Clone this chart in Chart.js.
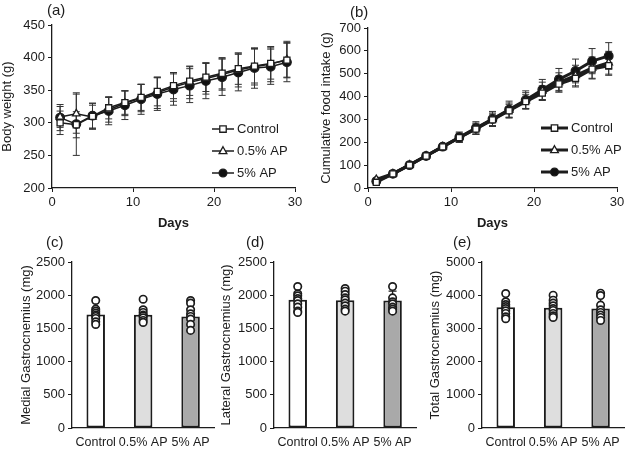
<!DOCTYPE html>
<html>
<head>
<meta charset="utf-8">
<script src="https://cdn.jsdelivr.net/npm/chart.js@4.4.1/dist/chart.umd.min.js"></script>
<style>
  body { margin: 0; background: #fff; }
  #fig { position: relative; width: 630px; height: 450px; overflow: hidden; }
  .panel { position: absolute; }
</style>
</head>
<body>
<div id="fig">
  <div class="panel" style="left:0;top:0;width:315px;height:235px"><canvas id="cA"></canvas></div>
  <div class="panel" style="left:315px;top:0;width:315px;height:235px"><canvas id="cB"></canvas></div>
  <div class="panel" style="left:0;top:220px;width:220px;height:230px"><canvas id="cC"></canvas></div>
  <div class="panel" style="left:210px;top:220px;width:212px;height:230px"><canvas id="cD"></canvas></div>
  <div class="panel" style="left:420px;top:220px;width:210px;height:230px"><canvas id="cE"></canvas></div>
</div>
<script>
// ---- data ----
const days = [1, 3, 5, 7, 9, 11, 13, 15, 17, 19, 21, 23, 25, 27, 29];
const groups = ['Control', '0.5% AP', '5% AP'];

// (a) body weight, g
const bwControl = [300, 297, 310, 323, 331, 339, 348, 357, 364, 370, 376, 383, 387, 391, 396];
const bwLow     = [309, 314, 309, 320, 330, 338, 346, 355, 362, 368, 374, 381, 386, 390, 397];
const bwHigh    = [308, 298, 311, 318, 327, 336, 344, 351, 357, 364, 370, 377, 384, 386, 393];
const bwControlSd = [18, 20, 20, 17, 18, 20, 22, 20, 22, 22, 24, 24, 26, 24, 26];
const bwLowSd     = [16, 30, 18, 19, 19, 21, 24, 22, 25, 24, 24, 26, 28, 27, 28];
const bwHighSd    = [20, 48, 19, 21, 22, 23, 25, 24, 26, 27, 28, 28, 31, 27, 30];

// (b) cumulative food intake, g
const fiControl = [25, 62, 100, 140, 180, 220, 258, 298, 338, 378, 415, 455, 480, 520, 535];
const fiLow     = [38, 63, 101, 141, 181, 221, 260, 300, 340, 382, 425, 462, 492, 525, 548];
const fiHigh    = [30, 62, 100, 140, 181, 222, 262, 302, 343, 385, 430, 475, 512, 555, 578];
const fiControlSd = [5, 6, 7, 8, 10, 18, 22, 25, 28, 30, 32, 35, 38, 40, 42];
const fiLowSd     = [5, 6, 7, 8, 10, 20, 24, 28, 32, 35, 38, 42, 45, 48, 50];
const fiHighSd    = [5, 6, 7, 9, 12, 23, 28, 33, 37, 40, 45, 48, 52, 55, 58];

// (c) medial gastrocnemius, mg
const medMean = [1710, 1705, 1680];
const medSd = [100, 105, 115];
const medPts = [
  [1920, 1790, 1760, 1730, 1700, 1680, 1650, 1600, 1560],
  [1940, 1780, 1740, 1700, 1690, 1660, 1620, 1590],
  [1920, 1880, 1780, 1720, 1680, 1640, 1560, 1470]
];
// (d) lateral gastrocnemius, mg
const latMean = [1930, 1925, 1920];
const latSd = [115, 110, 140];
const latPts = [
  [2130, 2020, 1990, 1950, 1920, 1870, 1820, 1760, 1740],
  [2100, 2060, 2010, 1960, 1930, 1880, 1840, 1790, 1760],
  [2130, 1960, 1900, 1870, 1820, 1790, 1760]
];
// (e) total gastrocnemius, mg
const totMean = [3640, 3620, 3600];
const totSd = [210, 200, 360];
const totPts = [
  [4050, 3800, 3720, 3660, 3600, 3530, 3450, 3350, 3290],
  [4000, 3850, 3760, 3680, 3600, 3540, 3450, 3380, 3330],
  [4060, 3990, 3700, 3560, 3480, 3400, 3330, 3240]
];

// ---- style ----
const ink = '#1c1c1c';
const FONT = '"Liberation Sans", Arial, Helvetica, sans-serif';
Chart.defaults.font.family = FONT;
Chart.defaults.font.size = 13;
Chart.defaults.color = ink;
Chart.defaults.animation = false;

const marks = ['rect', 'triangle', 'circle'];
const markFills = ['#ffffff', '#ffffff', '#111111'];
const barFills = ['#ffffff', '#dedede', '#a9a9a9'];
const plain = v => String(v);

function drawMark(ctx, style, x, y, r, fill, lw) {
  ctx.save();
  ctx.fillStyle = fill;
  ctx.strokeStyle = ink;
  ctx.lineWidth = lw;
  ctx.beginPath();
  if (style === 'rect') {
    const s = r * 0.75;
    ctx.rect(x - s, y - s, 2 * s, 2 * s);
  } else if (style === 'triangle') {
    ctx.moveTo(x, y - r);
    ctx.lineTo(x + r * 0.9, y + r * 0.6);
    ctx.lineTo(x - r * 0.9, y + r * 0.6);
    ctx.closePath();
  } else {
    ctx.arc(x, y, r * 0.9, 0, Math.PI * 2);
  }
  ctx.fill();
  ctx.stroke();
  ctx.restore();
}

const panelLabel = {
  id: 'panelLabel',
  afterDraw(chart, args, opts) {
    const ctx = chart.ctx;
    ctx.save();
    ctx.font = '15px ' + FONT;
    ctx.fillStyle = ink;
    ctx.textBaseline = 'middle';
    ctx.fillText(opts.text, opts.x, opts.y);
    ctx.restore();
  }
};

// error bars for the day series (both directions)
const lineErrors = {
  id: 'lineErrors',
  beforeDatasetsDraw(chart) {
    const ctx = chart.ctx, xs = chart.scales.x, ys = chart.scales.y;
    ctx.save();
    ctx.strokeStyle = '#333';
    ctx.lineWidth = 1;
    chart.data.datasets.forEach(ds => {
      ds.data.forEach((p, k) => {
        const x = xs.getPixelForValue(p.x);
        const y1 = ys.getPixelForValue(p.y + ds.sd[k]);
        const y2 = ys.getPixelForValue(p.y - ds.sd[k]);
        ctx.beginPath();
        ctx.moveTo(x, y1); ctx.lineTo(x, y2);
        ctx.moveTo(x - 3.5, y1); ctx.lineTo(x + 3.5, y1);
        ctx.moveTo(x - 3.5, y2); ctx.lineTo(x + 3.5, y2);
        ctx.stroke();
      });
    });
    ctx.restore();
  }
};

// legend drawn inside the plot, line + marker + text
const innerLegend = {
  id: 'innerLegend',
  afterDraw(chart, args, o) {
    const ctx = chart.ctx;
    chart.data.datasets.forEach((ds, i) => {
      const y = o.y + i * o.dy;
      ctx.save();
      ctx.strokeStyle = ink;
      ctx.lineWidth = ds.borderWidth;
      ctx.beginPath();
      ctx.moveTo(o.x, y); ctx.lineTo(o.x + o.len, y);
      ctx.stroke();
      ctx.restore();
      drawMark(ctx, ds.pointStyle, o.x + o.len / 2, y, ds.pointRadius, ds.pointBackgroundColor, 1.3);
      ctx.save();
      ctx.font = '13px ' + FONT;
      ctx.fillStyle = ink;
      ctx.textBaseline = 'middle';
      ctx.fillText(ds.label, o.x + o.len + 3, y + 0.5);
      ctx.restore();
    });
  }
};

// upward SD bars on the bar charts, drawn before the dots
const barErrors = {
  id: 'barErrors',
  afterDatasetDraw(chart, args) {
    const ds = chart.data.datasets[args.index];
    if (ds.type !== 'bar') return;
    const ctx = chart.ctx, ys = chart.scales.y;
    ctx.save();
    ctx.strokeStyle = ink;
    ctx.lineWidth = 1.3;
    args.meta.data.forEach((bar, k) => {
      const y1 = ys.getPixelForValue(ds.data[k]);
      const y2 = ys.getPixelForValue(ds.data[k] + ds.sd[k]);
      ctx.beginPath();
      ctx.moveTo(bar.x, y1); ctx.lineTo(bar.x, y2);
      ctx.moveTo(bar.x - 4, y2); ctx.lineTo(bar.x + 4, y2);
      ctx.stroke();
    });
    ctx.restore();
  }
};

function axisCommon() {
  return {
    grid: { drawOnChartArea: false, tickLength: 4, color: ink, lineWidth: 1 },
    border: { color: ink, width: 1.3 }
  };
}

function lineChart(id, o) {
  const x = axisCommon(), y = axisCommon();
  return new Chart(document.getElementById(id), {
    type: 'line',
    data: {
      datasets: o.series.map((s, i) => ({
        label: groups[i],
        data: days.map((d, k) => ({ x: d, y: s[k] })),
        sd: o.sd[i],
        borderColor: ink,
        borderWidth: o.lw,
        pointStyle: marks[i],
        pointRadius: 4.3,
        pointBorderWidth: 1.3,
        pointBackgroundColor: markFills[i],
        pointBorderColor: ink,
        tension: 0
      }))
    },
    options: {
      responsive: true,
      maintainAspectRatio: false,
      layout: { padding: { top: o.top, right: o.right, left: 0, bottom: 0 } },
      plugins: {
        legend: { display: false },
        tooltip: { enabled: false },
        panelLabel: o.label,
        innerLegend: o.legend
      },
      scales: {
        x: Object.assign(x, {
          type: 'linear', min: 0, max: 30,
          ticks: { stepSize: 10, padding: 3, color: ink, maxRotation: 0, callback: plain },
          title: { display: true, text: 'Days', font: { weight: 'bold', size: 13 }, padding: 4 },
          afterFit: s => { s.height = 47; s.paddingLeft = 0; s.paddingRight = 0; }
        }),
        y: Object.assign(y, {
          min: o.ymin, max: o.ymax,
          ticks: { stepSize: o.step, padding: 3, color: ink, callback: plain },
          title: { display: true, text: o.ytitle, font: { size: 13 }, padding: o.tpad },
          afterFit: s => { s.width = o.yw; }
        })
      }
    },
    plugins: [lineErrors, innerLegend, panelLabel]
  });
}

function barChart(id, o) {
  const y = axisCommon();
  const pts = [];
  o.points.forEach((arr, g) => arr.forEach(v => pts.push({ x: groups[g], y: v })));
  return new Chart(document.getElementById(id), {
    type: 'bar',
    data: {
      labels: groups,
      datasets: [
        {
          type: 'line', data: pts, showLine: false, order: 0,
          pointStyle: 'circle', pointRadius: 3.7, pointBorderWidth: 1.7,
          pointBackgroundColor: '#fff', pointBorderColor: ink
        },
        {
          type: 'bar', data: o.means, sd: o.sd, order: 1,
          backgroundColor: barFills, borderColor: ink, borderWidth: 2,
          borderSkipped: false, barPercentage: 0.39, categoryPercentage: 1
        }
      ]
    },
    options: {
      responsive: true,
      maintainAspectRatio: false,
      layout: { padding: { top: 42, right: o.right, left: 0, bottom: 0 } },
      plugins: {
        legend: { display: false },
        tooltip: { enabled: false },
        panelLabel: o.label
      },
      scales: {
        x: {
          grid: { display: false, drawTicks: true, tickLength: 7 },
          border: { color: ink, width: 1.3 },
          ticks: { padding: 0, color: ink, maxRotation: 0, minRotation: 0, autoSkip: false,
                   font: { size: 12.5 } },
          afterFit: s => { s.height = 22; s.paddingLeft = 0; s.paddingRight = 0; }
        },
        y: Object.assign(y, {
          min: 0, max: o.ymax,
          ticks: { stepSize: o.step, padding: 3, color: ink, callback: plain },
          title: { display: true, text: o.ytitle, font: { size: 13 }, padding: o.tpad },
          afterFit: s => { s.width = o.yw; }
        })
      }
    },
    plugins: [barErrors, panelLabel]
  });
}

lineChart('cA', {
  series: [bwControl, bwLow, bwHigh], sd: [bwControlSd, bwLowSd, bwHighSd],
  lw: 1.5, ymin: 200, ymax: 450, step: 50, ytitle: 'Body weight (g)',
  yw: 52, tpad: 0, top: 25, right: 20,
  label: { text: '(a)', x: 47, y: 11 },
  legend: { x: 212, y: 129, dy: 22, len: 22 }
});
lineChart('cB', {
  series: [fiControl, fiLow, fiHigh], sd: [fiControlSd, fiLowSd, fiHighSd],
  lw: 3, ymin: 0, ymax: 700, step: 100, ytitle: 'Cumulative food intake (g)',
  yw: 53, tpad: 4, top: 28, right: 13,
  label: { text: '(b)', x: 35, y: 13 },
  legend: { x: 226, y: 128, dy: 22, len: 27 }
});
barChart('cC', {
  means: medMean, sd: medSd, points: medPts, ymax: 2500, step: 500,
  ytitle: 'Medial Gastrocnemius (mg)', yw: 72, tpad: 19, right: 1,
  label: { text: '(c)', x: 46, y: 23 }
});
barChart('cD', {
  means: latMean, sd: latSd, points: latPts, ymax: 2500, step: 500,
  ytitle: 'Lateral Gastrocnemius (mg)', yw: 64, tpad: 9, right: 1,
  label: { text: '(d)', x: 36, y: 23 }
});
barChart('cE', {
  means: totMean, sd: totSd, points: totPts, ymax: 5000, step: 1000,
  ytitle: 'Total Gastrocnemius (mg)', yw: 62, tpad: 8, right: 2,
  label: { text: '(e)', x: 33, y: 23 }
});
</script>
</body>
</html>
